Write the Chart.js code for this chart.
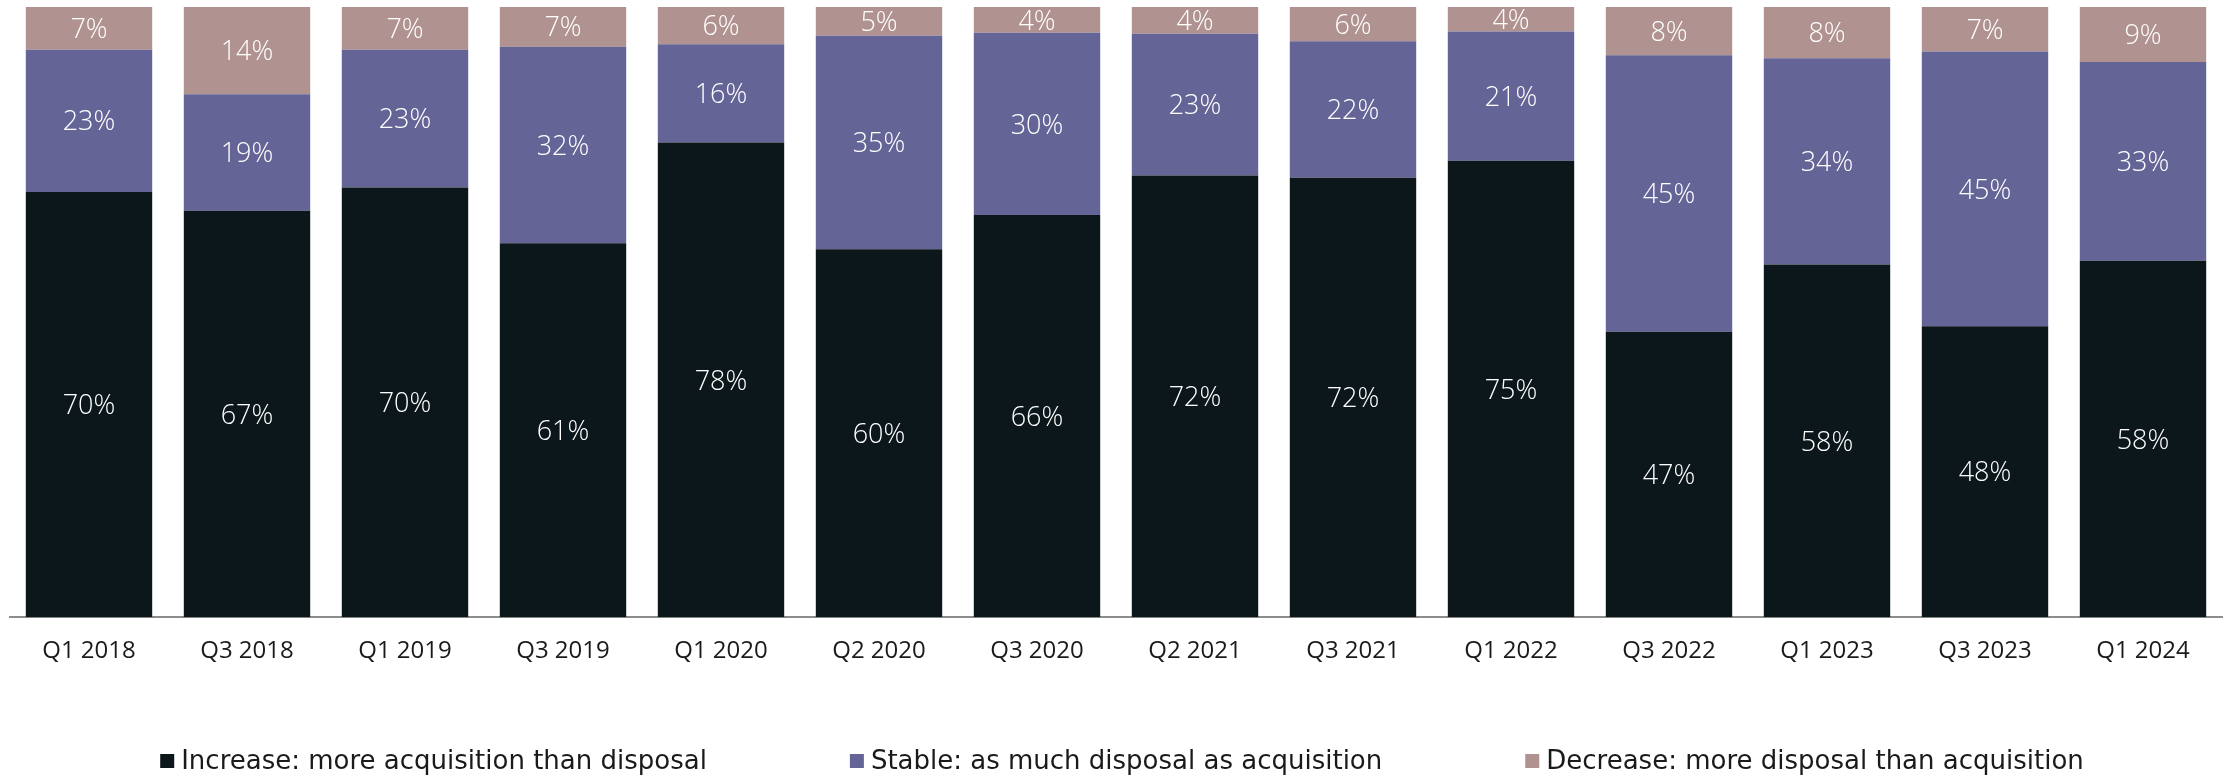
<!DOCTYPE html>
<html>
<head>
<meta charset="utf-8">
<script src="https://cdn.jsdelivr.net/npm/chart.js@4.4.1/dist/chart.umd.min.js"></script>
<style>
  html, body { margin: 0; padding: 0; background: #fff; }
  #wrap { width: 2236px; height: 777px; position: relative; }
</style>
</head>
<body>
<div id="wrap"><canvas id="chart"></canvas></div>
<script>
// Share of respondents, per survey wave
const quarters = ['Q1 2018', 'Q3 2018', 'Q1 2019', 'Q3 2019', 'Q1 2020', 'Q2 2020', 'Q3 2020',
  'Q2 2021', 'Q3 2021', 'Q1 2022', 'Q3 2022', 'Q1 2023', 'Q3 2023', 'Q1 2024'];
const increase = [69.7, 66.6, 70.4, 61.3, 77.8, 60.3, 65.9, 72.4, 72.0, 74.8, 46.8, 57.8, 47.7, 58.4];
const stable   = [23.3, 19.1, 22.6, 32.2, 16.1, 35.0, 29.9, 23.2, 22.4, 21.2, 45.3, 33.8, 45.0, 32.6];
const decrease = [7.0, 14.3, 7.0, 6.6, 6.1, 4.7, 4.2, 4.4, 5.6, 4.0, 7.9, 8.4, 7.3, 9.0];
const seriesNames = [
  'Increase: more acquisition than disposal',
  'Stable: as much disposal as acquisition',
  'Decrease: more disposal than acquisition'
];
const seriesColors = ['#0c171b', '#656496', '#b09391'];

const FONT = '"Open Sans", "Noto Sans", sans-serif';
const LEGEND_FONT = '"DejaVu Sans", sans-serif';

/* white % labels centred in each segment */
const barLabels = {
  id: 'barLabels',
  afterDatasetsDraw(chart) {
    const ctx = chart.ctx;
    ctx.save();
    ctx.font = '300 27px ' + FONT;
    ctx.fillStyle = '#ffffff';
    ctx.textAlign = 'center';
    ctx.textBaseline = 'middle';
    chart.data.datasets.forEach((ds, i) => {
      chart.getDatasetMeta(i).data.forEach((bar, j) => {
        ctx.fillText(Math.round(ds.data[j]) + '%', bar.x, (bar.y + bar.base) / 2 + 2);
      });
    });
    ctx.restore();
  }
};

/* legend row at the bottom, widely spaced like the original */
const bottomLegend = {
  id: 'bottomLegend',
  afterDraw(chart) {
    const ctx = chart.ctx;
    const box = 14, gapText = 7, gapItem = 143;
    ctx.save();
    ctx.font = '26px ' + LEGEND_FONT;
    const items = chart.data.datasets.map(ds => ({
      label: ds.label, color: ds.backgroundColor,
      w: box + gapText + ctx.measureText(ds.label).width
    }));
    const total = items.reduce((s, it) => s + it.w, 0) + gapItem * (items.length - 1);
    let x = (chart.chartArea.left + chart.chartArea.right) / 2 - total / 2 + 6;
    const y = chart.height - 16;
    ctx.textBaseline = 'middle';
    ctx.textAlign = 'left';
    items.forEach(it => {
      ctx.fillStyle = it.color;
      ctx.fillRect(x, y - box / 2, box, box);
      ctx.fillStyle = '#1a1a1a';
      ctx.fillText(it.label, x + box + gapText, y + 1);
      x += it.w + gapItem;
    });
    ctx.restore();
  }
};

const datasets = [increase, stable, decrease].map((vals, i) => ({
  label: seriesNames[i],
  data: vals,
  backgroundColor: seriesColors[i],
  borderWidth: 0,
  categoryPercentage: 1.0,
  barPercentage: 0.8
}));

new Chart(document.getElementById('chart'), {
  type: 'bar',
  data: { labels: quarters, datasets: datasets },
  options: {
    responsive: true,
    maintainAspectRatio: false,
    animation: false,
    layout: { padding: { top: 7, left: 10, right: 14, bottom: 91 } },
    plugins: {
      legend: { display: false },
      tooltip: { enabled: false }
    },
    scales: {
      x: {
        stacked: true,
        grid: { display: false, drawTicks: false },
        border: { display: true, color: '#8c8c8c', width: 2 },
        ticks: { color: '#1a1a1a', padding: 20, font: { family: FONT, size: 24 } }
      },
      y: {
        stacked: true,
        display: false,
        min: 0,
        max: 100
      }
    }
  },
  plugins: [barLabels, bottomLegend]
});
</script>
</body>
</html>
